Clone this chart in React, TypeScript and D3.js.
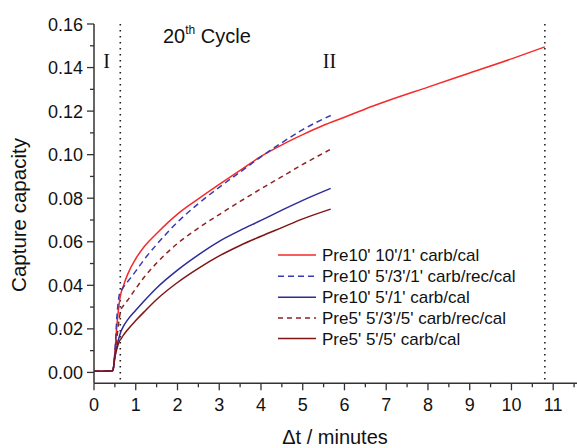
import React from "react";
import * as d3 from "d3";

const W = 577;
const H = 448;

const seriesNames = [
  "Pre10' 10'/1' carb/cal",
  "Pre10' 5'/3'/1' carb/rec/cal",
  "Pre10' 5'/1' carb/cal",
  "Pre5' 5'/3'/5' carb/rec/cal",
  "Pre5' 5'/5' carb/cal",
];
const seriesColors = ["#f52a2a", "#3a3ab0", "#2c2c98", "#8e2323", "#7e1616"];
const seriesDash = [null, "6,4", null, "5,4", null];

const redX = [0, 0.45, 0.5, 0.55, 0.6, 0.63, 0.7, 0.8, 1, 1.2, 1.5, 2, 2.5, 3, 3.5, 4, 4.5, 5, 5.5, 6, 6.5, 7, 8, 9, 10, 10.8];
const redY = [0.0005, 0.0008, 0.009, 0.022, 0.031, 0.035, 0.0395, 0.0448, 0.0522, 0.0577, 0.0638, 0.0727, 0.0797, 0.0863, 0.0928, 0.0992, 0.1045, 0.1092, 0.1135, 0.1172, 0.121, 0.1245, 0.131, 0.1375, 0.144, 0.1495];

const shortX = [0, 0.45, 0.5, 0.55, 0.6, 0.65, 0.7, 0.8, 1, 1.2, 1.5, 2, 2.5, 3, 3.5, 4, 4.5, 5, 5.67];
const blueDashY = [0.0005, 0.0008, 0.009, 0.026, 0.035, 0.0375, 0.039, 0.0415, 0.0465, 0.0518, 0.0587, 0.069, 0.0775, 0.085, 0.092, 0.099, 0.1055, 0.1115, 0.118];
const blueY = [0.0005, 0.0008, 0.007, 0.012, 0.016, 0.019, 0.021, 0.024, 0.0285, 0.0328, 0.0388, 0.047, 0.054, 0.0602, 0.0652, 0.0698, 0.0745, 0.079, 0.0845];
const brownDashY = [0.0005, 0.0008, 0.008, 0.016, 0.024, 0.029, 0.0305, 0.033, 0.0385, 0.0437, 0.0502, 0.0592, 0.0663, 0.0725, 0.0785, 0.0843, 0.0899, 0.0955, 0.1025];
const brownY = [0.0005, 0.0008, 0.007, 0.011, 0.014, 0.0155, 0.017, 0.0195, 0.0238, 0.0278, 0.0335, 0.0413, 0.0478, 0.0535, 0.0583, 0.0625, 0.0665, 0.0705, 0.075];

const xTicks = [0, 1, 2, 3, 4, 5, 6, 7, 8, 9, 10, 11];
const yTicks = [0, 0.02, 0.04, 0.06, 0.08, 0.1, 0.12, 0.14, 0.16];
const regionLines = [0.63, 10.8];

const FONT = "'Liberation Sans', Arial, Helvetica, sans-serif";

export default function App() {
  const x = d3.scaleLinear().domain([0, 11.57]).range([94, 577]);
  const y = d3.scaleLinear().domain([-0.005, 0.16]).range([383.3, 24]);

  const series = [
    redX.map((v, i) => [v, redY[i]]),
    shortX.map((v, i) => [v, blueDashY[i]]),
    shortX.map((v, i) => [v, blueY[i]]),
    shortX.map((v, i) => [v, brownDashY[i]]),
    shortX.map((v, i) => [v, brownY[i]]),
  ];
  const line = d3
    .line<number[]>()
    .x((d) => x(d[0]))
    .y((d) => y(d[1]))
    .curve(d3.curveMonotoneX);

  const xMinor = d3.range(0.5, 11.6, 1);
  const yMinor = d3.range(0.01, 0.16, 0.02);
  const fmt = d3.format(".2f");
  const y0 = y(-0.005);
  const x0 = x(0);

  const legendY = [255, 276.3, 297.3, 318, 338.5];

  return (
    <svg
      width={W}
      height={H}
      style={{ position: "absolute", left: 0, top: 0, background: "#fff" }}
      fontFamily={FONT}
    >
      <rect width={W} height={H} fill="#fff" />
      {regionLines.map((v, i) => (
        <line
          key={"r" + i}
          x1={x(v)}
          x2={x(v)}
          y1={y(0.16)}
          y2={y0}
          stroke="#222"
          strokeWidth={1.6}
          strokeDasharray="1.6,4.4"
        />
      ))}
      {series.map((s, i) => (
        <path
          key={"s" + i}
          d={line(s) || ""}
          fill="none"
          stroke={seriesColors[i]}
          strokeWidth={1.5}
          strokeDasharray={seriesDash[i] || undefined}
        />
      ))}
      <line x1={x0} x2={x0} y1={y(0.16)} y2={y0} stroke="#333" strokeWidth={1.5} />
      <line x1={x0} x2={577} y1={y0} y2={y0} stroke="#333" strokeWidth={1.5} />
      {yTicks.map((t) => (
        <g key={"yt" + t}>
          <line x1={x0 - 7} x2={x0} y1={y(t)} y2={y(t)} stroke="#333" strokeWidth={1.3} />
          <text x={x0 - 11} y={y(t) + 6.5} textAnchor="end" fontSize={18} fill="#111">
            {fmt(t)}
          </text>
        </g>
      ))}
      {yMinor.map((t) => (
        <line key={"ym" + t} x1={x0 - 4} x2={x0} y1={y(t)} y2={y(t)} stroke="#333" strokeWidth={1.3} />
      ))}
      {xTicks.map((t) => (
        <g key={"xt" + t}>
          <line x1={x(t)} x2={x(t)} y1={y0} y2={y0 + 7} stroke="#333" strokeWidth={1.3} />
          <text x={x(t)} y={y0 + 28} textAnchor="middle" fontSize={18} fill="#111">
            {t}
          </text>
        </g>
      ))}
      {xMinor.map((t) => (
        <line key={"xm" + t} x1={x(t)} x2={x(t)} y1={y0} y2={y0 + 4} stroke="#333" strokeWidth={1.3} />
      ))}
      <text
        transform={`translate(26, 215) rotate(-90)`}
        textAnchor="middle"
        fontSize={20.5}
        fill="#111"
      >
        Capture capacity
      </text>
      <text x={335} y={444} textAnchor="middle" fontSize={20} fill="#111">
        Δt / minutes
      </text>
      <text x={163} y={43} fontSize={20} fill="#111">
        20<tspan dy={-9} fontSize={12}>th</tspan>
        <tspan dy={9}> Cycle</tspan>
      </text>
      <text x={106.5} y={68} textAnchor="middle" fontSize={20} fontFamily="'Liberation Serif', 'Times New Roman', serif" fill="#111">
        I
      </text>
      <text x={329.5} y={68} textAnchor="middle" fontSize={20} fontFamily="'Liberation Serif', 'Times New Roman', serif" fill="#111">
        II
      </text>
      {seriesNames.map((n, i) => (
        <g key={"lg" + i}>
          <line
            x1={278}
            x2={316}
            y1={legendY[i]}
            y2={legendY[i]}
            stroke={seriesColors[i]}
            strokeWidth={1.5}
            strokeDasharray={seriesDash[i] || undefined}
          />
          <text x={322} y={legendY[i] + 6} fontSize={17} fill="#111">
            {n}
          </text>
        </g>
      ))}
    </svg>
  );
}
